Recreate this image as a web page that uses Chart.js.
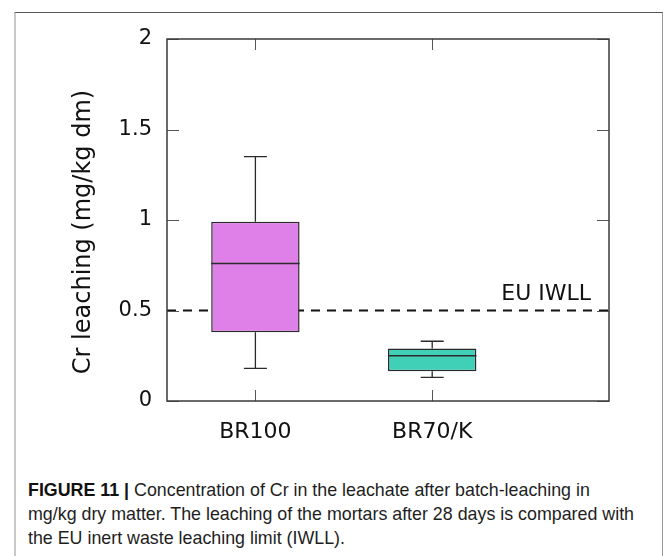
<!DOCTYPE html>
<html>
<head>
<meta charset="utf-8">
<script src="https://cdn.jsdelivr.net/npm/chart.js@4"></script>
<style>
  html, body { margin: 0; padding: 0; background: #fff; }
  body { width: 667px; height: 556px; position: relative; overflow: hidden; }
  #frame { position: absolute; left: 14px; top: 12px; width: 646px; height: 600px;
           border-top: 1px solid #555; border-left: 2px solid #c8c8c8; border-right: 1px solid #999; }
  #wrap { position: absolute; left: 0; top: 0; width: 667px; height: 460px; }
  #ytitle { position: absolute; left: -68px; top: 217px; width: 300px; height: 30px; line-height: 30px;
            text-align: center; transform: rotate(-90deg); font-family: "DejaVu Sans", sans-serif;
            font-size: 24px; color: #111; white-space: nowrap; }
  #caption { position: absolute; left: 28px; top: 478px; font-family: "Liberation Sans", Arial, sans-serif;
             font-size: 19px; line-height: 24px; color: #1e1e1e; }
  #caption .ln { display: block; white-space: nowrap; transform-origin: 0 50%; }
  #caption b { color: #111; }
</style>
</head>
<body>
<div id="frame"></div>
<div id="wrap"><canvas id="c" width="667" height="460"></canvas></div>
<div id="ytitle">Cr leaching (mg/kg dm)</div>
<div id="caption"><span class="ln"><b>FIGURE 11 |</b> Concentration of Cr in the leachate after batch-leaching in</span><span class="ln">mg/kg dry matter. The leaching of the mortars after 28 days is compared with</span><span class="ln">the EU inert waste leaching limit (IWLL).</span></div>
<script>
// ---- data ----
const categories = ["BR100", "BR70/K"];
const xPositions = [1, 3];
const whiskerMin = [0.18, 0.13];
const q1 = [0.38, 0.165];
const median = [0.76, 0.25];
const q3 = [0.99, 0.29];
const whiskerMax = [1.35, 0.33];
const boxColors = ["#df7fe8", "#40d0b8"];
const limitValue = 0.5;
const limitLabel = "EU IWLL";
const xRange = [0, 5];
const yRange = [0, 2];
const yStep = 0.5;
const yTickLabels = ["0", "0.5", "1", "1.5", "2"];

const boxData = xPositions.map((x, i) => ({ x: x, y: [q1[i], q3[i]] }));
const limitData = [{ x: xRange[0], y: limitValue }, { x: xRange[1], y: limitValue }];

// caption: uniform horizontal fit so the second line spans the reference width
(function fitCaption() {
  const lines = document.querySelectorAll('#caption .ln');
  const w = lines[1].getBoundingClientRect().width;
  const k = 606 / w;
  lines.forEach(l => { l.style.transform = 'scaleX(' + k + ')'; });
})();

const boxPlugin = {
  id: 'boxExtras',
  afterDatasetsDraw(chart) {
    const ctx = chart.ctx;
    const xs = chart.scales.x, ys = chart.scales.y;
    const meta = chart.getDatasetMeta(1);
    ctx.save();
    ctx.strokeStyle = '#2a2a2a';
    xPositions.forEach((xv, i) => {
      const bar = meta.data[i];
      const cx = xs.getPixelForValue(xv);
      const half = bar.width / 2;
      const capHalf = bar.width * 0.13;
      ctx.lineWidth = 1.3;
      ctx.beginPath();
      ctx.moveTo(cx, ys.getPixelForValue(q3[i]));
      ctx.lineTo(cx, ys.getPixelForValue(whiskerMax[i]));
      ctx.moveTo(cx, ys.getPixelForValue(q1[i]));
      ctx.lineTo(cx, ys.getPixelForValue(whiskerMin[i]));
      ctx.moveTo(cx - capHalf, ys.getPixelForValue(whiskerMax[i]));
      ctx.lineTo(cx + capHalf, ys.getPixelForValue(whiskerMax[i]));
      ctx.moveTo(cx - capHalf, ys.getPixelForValue(whiskerMin[i]));
      ctx.lineTo(cx + capHalf, ys.getPixelForValue(whiskerMin[i]));
      ctx.stroke();
      ctx.lineWidth = 1.6;
      ctx.beginPath();
      ctx.moveTo(cx - half, ys.getPixelForValue(median[i]));
      ctx.lineTo(cx + half, ys.getPixelForValue(median[i]));
      ctx.stroke();
    });
    // limit label
    ctx.fillStyle = '#111';
    ctx.font = '22px "DejaVu Sans", sans-serif';
    ctx.textAlign = 'right';
    ctx.textBaseline = 'alphabetic';
    ctx.fillText(limitLabel, chart.chartArea.right - 18, ys.getPixelForValue(limitValue) - 11);
    // inner ticks
    const a = chart.chartArea;
    ctx.strokeStyle = '#555';
    ctx.lineWidth = 1;
    ctx.beginPath();
    ys.ticks.forEach(t => {
      const py = Math.round(ys.getPixelForValue(t.value)) + 0.5;
      ctx.moveTo(a.left, py); ctx.lineTo(a.left + 12, py);
      ctx.moveTo(a.right, py); ctx.lineTo(a.right - 12, py);
    });
    xs.ticks.forEach(t => {
      const px = Math.round(xs.getPixelForValue(t.value)) + 0.5;
      ctx.moveTo(px, a.bottom); ctx.lineTo(px, a.bottom - 11);
      ctx.moveTo(px, a.top); ctx.lineTo(px, a.top + 11);
    });
    ctx.stroke();
    // frame
    ctx.strokeStyle = '#3a3a3a';
    ctx.lineWidth = 1.5;
    ctx.strokeRect(a.left, a.top, a.right - a.left, a.bottom - a.top);
    ctx.restore();
  }
};

new Chart(document.getElementById('c'), {
  type: 'bar',
  data: {
    datasets: [
      {
        type: 'line',
        label: limitLabel,
        data: limitData,
        borderColor: '#111',
        borderWidth: 2,
        borderDash: [9, 7],
        pointRadius: 0,
        fill: false,
        order: 2
      },
      {
        type: 'bar',
        label: 'Cr',
        data: boxData,
        backgroundColor: boxColors,
        borderColor: '#2a2a2a',
        borderWidth: 1.5,
        borderSkipped: false,
        categoryPercentage: 1,
        barPercentage: 0.5,
        order: 1
      }
    ]
  },
  options: {
    responsive: false,
    animation: false,
    layout: { padding: { left: 0, top: 39, right: 58, bottom: 0 } },
    plugins: { legend: { display: false }, tooltip: { enabled: false } },
    scales: {
      x: {
        type: 'linear',
        offset: false,
        min: xRange[0], max: xRange[1],
        grid: { display: false, drawTicks: false, offset: false },
        border: { display: false },
        afterBuildTicks: (scale) => { scale.ticks = xPositions.map(v => ({ value: v })); },
        afterFit: (scale) => { scale.height = 59; },
        ticks: {
          padding: 18,
          color: '#111',
          font: { family: '"DejaVu Sans", sans-serif', size: 22 },
          callback: (v) => { const i = xPositions.indexOf(v); return i >= 0 ? categories[i] : ''; },
          maxRotation: 0, autoSkip: false
        }
      },
      y: {
        type: 'linear',
        min: yRange[0], max: yRange[1],
        grid: { display: false, drawTicks: false },
        border: { display: false },
        afterFit: (scale) => { scale.width = 167; },
        ticks: {
          stepSize: yStep,
          padding: 15,
          color: '#111',
          font: { family: '"DejaVu Sans", sans-serif', size: 21 },
          callback: (v) => { const i = Math.round((v - yRange[0]) / yStep); return yTickLabels[i] !== undefined ? yTickLabels[i] : ''; }
        }
      }
    }
  },
  plugins: [boxPlugin]
});
</script>
</body>
</html>
